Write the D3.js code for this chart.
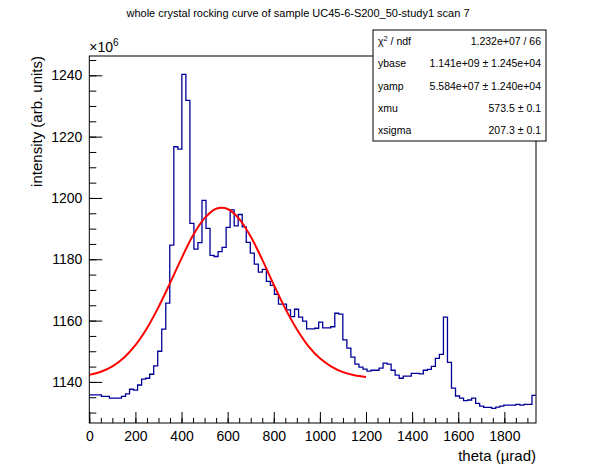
<!DOCTYPE html>
<html>
<head>
<meta charset="utf-8">
<script src="https://cdn.jsdelivr.net/npm/d3@7"></script>
<style>
    body { margin: 0; background: #fff; }
    svg { display: block; font-family: 'Liberation Sans', Arial, sans-serif; }
</style>
</head>
<body>
<div id="chart"></div>
<script>
// histogram: one value per bin (units of 10^6), bins start at theta = 0
const binWidth = 17.453
const intensity = [
    1135.8, 1135.8, 1135.8, 1135.3, 1135.3, 1134.7, 1134.7, 1134.7, 1135.3, 1136.1,
    1137.6, 1137.3, 1139.0, 1140.9, 1141.2, 1142.5, 1145.2, 1150.0, 1157.2, 1165.7,
    1184.6, 1216.7, 1215.9, 1240.3, 1231.8, 1191.7, 1183.3, 1185.4, 1199.2, 1190.1,
    1181.3, 1180.9, 1182.5, 1183.9, 1190.4, 1196.1, 1190.9, 1194.6, 1190.6, 1185.5,
    1182.0, 1178.4, 1175.8, 1176.7, 1172.8, 1171.5, 1168.6, 1165.4, 1165.4, 1163.5,
    1161.3, 1163.7, 1161.1, 1159.8, 1157.3, 1157.3, 1157.5, 1159.5, 1157.6, 1157.6,
    1158.0, 1162.4, 1162.1, 1153.7, 1151.0, 1148.1, 1145.8, 1144.8, 1144.2, 1143.5,
    1143.8, 1143.8, 1144.5, 1146.1, 1145.8, 1143.8, 1142.2, 1141.2, 1141.9, 1141.9,
    1142.8, 1142.8, 1142.6, 1143.8, 1144.1, 1145.1, 1147.7, 1149.0, 1161.1, 1146.4,
    1138.0, 1135.4, 1134.7, 1133.9, 1134.1, 1134.7, 1133.0, 1132.1, 1131.7, 1131.7,
    1131.4, 1131.8, 1132.1, 1132.4, 1132.4, 1132.4, 1132.7, 1132.4, 1132.7, 1132.7,
    1135.6
]

// fitted curve
const fitTheta = [0, 50, 100, 150, 200, 250, 300, 350, 400, 450, 500, 550, 600,
    650, 700, 750, 800, 850, 900, 950, 1000, 1050, 1100, 1150, 1200]
const fitIntensity = [1142.3, 1143.3, 1145.1, 1147.9, 1152.0, 1157.5, 1164.4, 1172.2,
    1180.3, 1187.8, 1193.4, 1196.5, 1196.4, 1193.2, 1187.4, 1179.9, 1171.7, 1163.9,
    1157.2, 1151.7, 1147.7, 1145.0, 1143.2, 1142.2, 1141.6]

const xTicks = [0, 200, 400, 600, 800, 1000, 1200, 1400, 1600, 1800]
const yTicks = [1140, 1160, 1180, 1200, 1220, 1240]
const yRange = [1126.6, 1246.3]

const statNames = ['χ2 / ndf', 'ybase', 'yamp', 'xmu', 'xsigma']
const statValues = ['1.232e+07 / 66', '1.141e+09 ± 1.245e+04', '5.584e+07 ± 1.240e+04',
    '573.5 ± 0.1', '207.3 ± 0.1']

const title = 'whole crystal rocking curve of sample UC45-6-S200_50-study1 scan 7'

const width = 596
const height = 472
const frame = {left: 89.3, right: 536, top: 56, bottom: 423}

const svg = d3.select('#chart')
    .append('svg')
        .attr('width', width)
        .attr('height', height)

svg.append('rect')
    .attr('width', width)
    .attr('height', height)
    .attr('fill', '#fff')

const xScale = d3.scaleLinear()
    .domain([0, binWidth * intensity.length])
    .range([frame.left, frame.right])
const yScale = d3.scaleLinear()
    .domain(yRange)
    .range([frame.bottom, frame.top])

const minorX = d3.range(0, xScale.domain()[1], 50)
const minorY = d3.range(1130, yRange[1], 5)

// ticks point inwards, ROOT style
const xAxis = svg.append('g')
    .attr('transform', 'translate(0,' + frame.bottom + ')')
xAxis.append('g')
    .call(d3.axisBottom(xScale).tickValues(minorX).tickSize(-5).tickFormat(''))
xAxis.append('g')
    .call(d3.axisBottom(xScale).tickValues(xTicks).tickSize(-11).tickPadding(8).tickFormat(d3.format('d')))

const yAxis = svg.append('g')
    .attr('transform', 'translate(' + frame.left + ',0)')
yAxis.append('g')
    .call(d3.axisLeft(yScale).tickValues(minorY).tickSize(-7).tickFormat(''))
yAxis.append('g')
    .call(d3.axisLeft(yScale).tickValues(yTicks).tickSize(-13).tickPadding(7).tickFormat(d3.format('d')))

svg.selectAll('.domain').remove()
svg.selectAll('.tick line').attr('stroke', '#000')
svg.selectAll('.tick text')
    .attr('fill', '#000')
    .style('font-size', '14px')
    .style('font-family', null)

svg.append('defs').append('clipPath')
    .attr('id', 'frame-clip')
    .append('rect')
        .attr('x', frame.left)
        .attr('y', frame.top)
        .attr('width', frame.right - frame.left)
        .attr('height', frame.bottom - frame.top)

const plot = svg.append('g')
    .attr('clip-path', 'url(#frame-clip)')

// histogram outline
const steps = intensity.map((d, i) => [i * binWidth, d])
steps.push([intensity.length * binWidth, intensity[intensity.length - 1]])
const stepLine = d3.line()
    .x((d) => xScale(d[0]))
    .y((d) => yScale(d[1]))
    .curve(d3.curveStepAfter)

plot.append('path')
    .attr('d', stepLine(steps))
    .attr('fill', 'none')
    .attr('stroke', '#000099')
    .attr('stroke-width', 1.3)

const fitLine = d3.line()
    .x((d, i) => xScale(fitTheta[i]))
    .y((d) => yScale(d))
    .curve(d3.curveCatmullRom)

plot.append('path')
    .attr('d', fitLine(fitIntensity))
    .attr('fill', 'none')
    .attr('stroke', '#ff0000')
    .attr('stroke-width', 2)

svg.append('rect')
    .attr('x', frame.left)
    .attr('y', frame.top)
    .attr('width', frame.right - frame.left)
    .attr('height', frame.bottom - frame.top)
    .attr('fill', 'none')
    .attr('stroke', '#000')
    .attr('stroke-width', 1)

// titles
svg.append('text')
    .attr('x', 298)
    .attr('y', 17)
    .attr('text-anchor', 'middle')
    .style('font-size', '11px')
    .text(title)

const exponent = svg.append('text')
    .attr('x', frame.left)
    .attr('y', 52)
    .style('font-size', '14px')
exponent.append('tspan').text('×10')
exponent.append('tspan')
    .attr('dy', -6)
    .style('font-size', '10px')
    .text('6')

svg.append('text')
    .attr('transform', 'translate(42,' + frame.top + ') rotate(-90)')
    .attr('text-anchor', 'end')
    .style('font-size', '15px')
    .text('intensity (arb. units)')

svg.append('text')
    .attr('x', frame.right)
    .attr('y', 461)
    .attr('text-anchor', 'end')
    .style('font-size', '15px')
    .text('theta (µrad)')

// fit statistics box
const box = {x: 373, y: 30, w: 173, h: 111}
const stats = svg.append('g')
stats.append('rect')
    .attr('x', box.x)
    .attr('y', box.y)
    .attr('width', box.w)
    .attr('height', box.h)
    .attr('fill', '#fff')
    .attr('stroke', '#000')

const rowHeight = box.h / statNames.length
statNames.forEach((name, i) => {
    const y = box.y + rowHeight * (i + 0.5) + 4
    const label = stats.append('text')
        .attr('x', box.x + 5)
        .attr('y', y)
        .style('font-size', '10.5px')
    if (name.startsWith('χ2')) {
        label.append('tspan').text('χ')
        label.append('tspan').attr('dy', -4).style('font-size', '7.5px').text('2')
        label.append('tspan').attr('dy', 4).text(' / ndf')
    } else {
        label.text(name)
    }
    stats.append('text')
        .attr('x', box.x + box.w - 5)
        .attr('y', y)
        .attr('text-anchor', 'end')
        .style('font-size', '10.5px')
        .text(statValues[i])
})
</script>
</body>
</html>
